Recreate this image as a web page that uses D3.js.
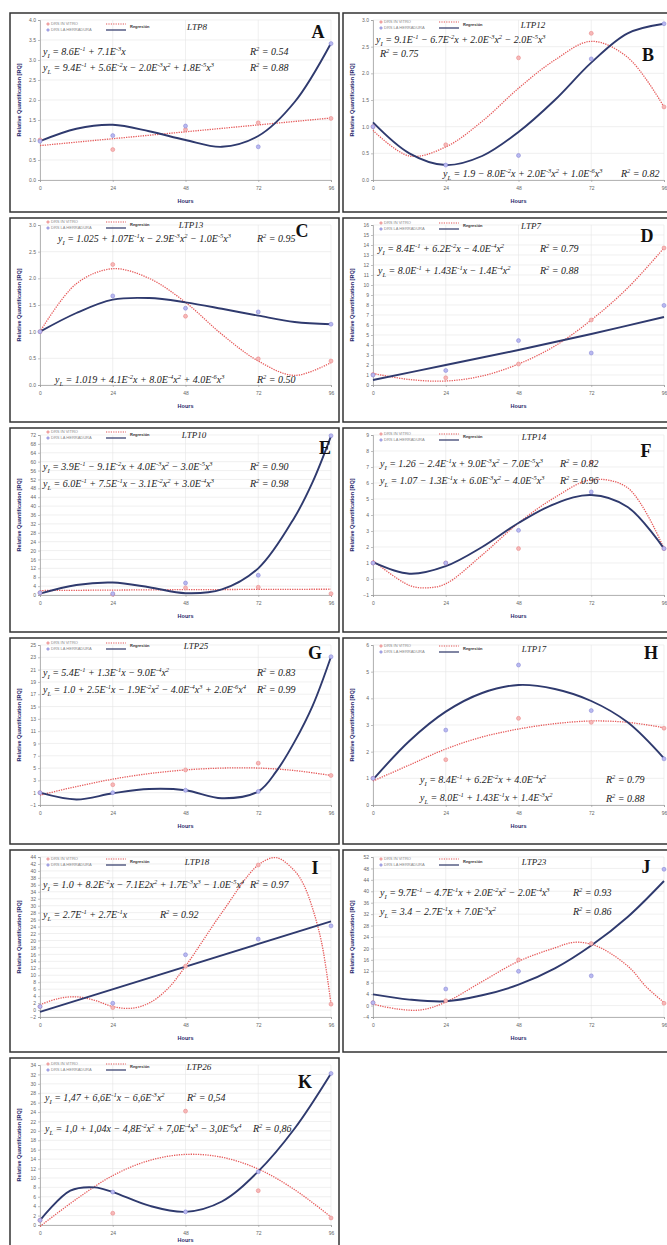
<!DOCTYPE html>
<html>
<head>
<meta charset="utf-8">
<script src="https://cdn.jsdelivr.net/npm/d3@7"></script>
<style>
  body { margin: 0; background: #fff; }
  svg { display: block; }
  .tick-label { font-family: "Liberation Sans", Arial, sans-serif; font-size: 5px; fill: #666; }
  .eq { font-family: "Liberation Serif", "Times New Roman", serif; font-style: italic; font-size: 10px; fill: #222; }
  .letter { font-family: "Liberation Serif", "Times New Roman", serif; font-weight: bold; font-size: 18px; fill: #111; }
  .gene { font-family: "Liberation Serif", "Times New Roman", serif; font-style: italic; font-size: 9px; fill: #222; }
  .legend { font-family: "Liberation Sans", Arial, sans-serif; font-size: 4px; fill: #888; }
  .axis-title { font-family: "Liberation Sans", Arial, sans-serif; font-weight: bold; font-size: 5.5px; fill: #1f1f6b; }
</style>
</head>
<body>
<svg id="fig" width="667" height="1245"></svg>
<script>
// ---- data ----
const hours = [0, 24, 48, 72, 96];
const panelLetters = ["A", "B", "C", "D", "E", "F", "G", "H", "I", "J", "K"];
const genes = ["LTP8", "LTP12", "LTP13", "LTP7", "LTP10", "LTP14", "LTP25", "LTP17", "LTP18", "LTP23", "LTP26"];
const legendNames = ["DRS IN VITRO", "DRS LA HERRADURA"];
const fitName = "Regresión";

const yDomains = [[0, 4], [0, 3], [0, 3], [0, 16], [0, 72], [-1, 9], [-1, 25], [0, 6], [-2, 44], [-4, 52], [0, 34]];
const yTickSteps = [0.5, 0.5, 0.5, 1, 4, 1, 2, 1, 2, 4, 2];

// measured points at 0/24/48/72/96 h
const redPoints = [
  [1.0, 0.76, 1.26, 1.43, 1.54],
  [1.0, 0.66, 2.29, 2.75, 1.37],
  [1.0, 2.26, 1.29, 0.49, 0.45],
  [1.05, 0.72, 2.1, 6.5, 13.7],
  [1.0, 0.3, 3.2, 3.5, 0.6],
  [1.0, 1.0, 1.9, 7.3, 1.9],
  [1.0, 2.3, 4.7, 5.8, 3.8],
  [1.0, 1.7, 3.25, 3.1, 2.88],
  [1.0, 0.7, 12.6, 41.7, 1.7],
  [1.0, 1.7, 16.0, 21.7, 0.8],
  [1.0, 2.5, 24.2, 7.3, 1.5]
];
const bluePoints = [
  [0.97, 1.11, 1.35, 0.83, 3.41],
  [1.0, 0.28, 0.46, 2.27, 2.93],
  [1.0, 1.67, 1.44, 1.37, 1.14],
  [1.0, 1.45, 4.44, 3.2, 7.96],
  [1.0, 0.6, 5.4, 8.9, 71.7],
  [1.0, 1.0, 3.04, 5.44, 1.9],
  [1.0, 1.0, 1.4, 1.2, 23.1],
  [1.0, 2.81, 5.25, 3.54, 1.73],
  [1.0, 1.95, 15.9, 20.4, 24.2],
  [1.0, 5.8, 12.0, 10.4, 47.7],
  [1.0, 7.0, 2.8, 11.3, 32.2]
];

// regression curves, [hour, value]
const redFits = [
  [[0, 0.86], [96, 1.55]],
  [[0, 0.93], [12, 0.45], [24, 0.62], [36, 1.1], [48, 1.72], [60, 2.25], [72, 2.6], [84, 2.3], [96, 1.37]],
  [[0, 1.0], [12, 1.9], [24, 2.18], [36, 2.0], [48, 1.55], [60, 0.95], [72, 0.45], [84, 0.18], [96, 0.42]],
  [[0, 1.15], [12, 0.55], [24, 0.4], [36, 0.9], [48, 2.1], [60, 3.9], [72, 6.5], [84, 9.7], [96, 13.7]],
  [[0, 2.0], [48, 2.4], [96, 2.6]],
  [[0, 1.15], [12, -0.4], [18, -0.55], [24, -0.3], [36, 1.5], [48, 3.5], [60, 5.1], [72, 6.2], [84, 5.7], [96, 1.9]],
  [[0, 0.6], [12, 2.0], [24, 3.2], [36, 4.1], [48, 4.7], [60, 5.0], [72, 5.0], [84, 4.6], [96, 3.8]],
  [[0, 0.9], [12, 1.5], [24, 2.1], [36, 2.55], [48, 2.85], [60, 3.05], [72, 3.15], [84, 3.1], [96, 2.9]],
  [[0, 1.5], [6, 3.3], [12, 3.8], [18, 2.8], [24, 1.0], [30, 0.5], [36, 2.0], [42, 6], [48, 12.6], [60, 28], [72, 41.7], [78, 43.8], [84, 40], [87, 36], [90, 29], [93, 19], [96, 1.7]],
  [[0, 0.5], [8, -1.2], [16, -1.5], [24, 1.2], [36, 8.4], [48, 15.5], [60, 20.2], [66, 22.1], [72, 21.5], [78, 18.5], [85, 12.9], [90, 6.7], [96, 1.1]],
  [[0, -0.3], [12, 5.5], [24, 10.5], [36, 13.7], [48, 15.0], [60, 14.4], [72, 11.9], [84, 7.5], [96, 1.7]]
];
const blueFits = [
  [[0, 0.97], [12, 1.28], [24, 1.38], [36, 1.22], [48, 1.0], [60, 0.83], [72, 1.1], [84, 1.95], [96, 3.42]],
  [[0, 1.08], [12, 0.5], [24, 0.28], [36, 0.45], [48, 0.9], [60, 1.5], [72, 2.2], [84, 2.75], [96, 2.93]],
  [[0, 1.0], [12, 1.35], [24, 1.6], [36, 1.63], [48, 1.55], [60, 1.43], [72, 1.3], [84, 1.18], [96, 1.14]],
  [[0, 0.5], [24, 2.0], [48, 3.5], [72, 5.1], [96, 6.8]],
  [[0, 0.6], [12, 4.5], [24, 5.6], [36, 3.5], [48, 0.8], [60, 2.5], [72, 12], [84, 35], [90, 51], [96, 71.5]],
  [[0, 1.05], [12, 0.33], [24, 0.8], [36, 2.0], [48, 3.5], [60, 4.7], [72, 5.25], [84, 4.5], [96, 1.9]],
  [[0, 1.0], [12, -0.1], [24, 0.9], [36, 1.6], [48, 1.4], [60, 0.1], [72, 1.2], [78, 4.5], [84, 9.3], [90, 15.2], [96, 23.1]],
  [[0, 0.95], [12, 2.4], [24, 3.5], [36, 4.2], [48, 4.5], [60, 4.35], [72, 3.9], [84, 3.1], [96, 1.75]],
  [[0, -0.5], [96, 25.5]],
  [[0, 3.9], [12, 2.1], [24, 1.5], [36, 3.6], [48, 7.3], [60, 13], [72, 21], [84, 31], [96, 43.6]],
  [[0, 1.0], [10, 7.3], [18, 8.0], [24, 7.0], [36, 4.1], [48, 2.8], [60, 5.0], [72, 11.4], [84, 20.5], [96, 32.2]]
];

const eqRed = [
  "y_{I} = 8.6E^{-1} + 7.1E^{-3}x",
  "y_{I} = 9.1E^{-1} − 6.7E^{-2}x + 2.0E^{-3}x^{2} − 2.0E^{-5}x^{3}",
  "y_{I} = 1.025 + 1.07E^{-1}x − 2.9E^{-3}x^{2} − 1.0E^{-5}x^{3}",
  "y_{I} = 8.4E^{-1} + 6.2E^{-2}x − 4.0E^{-4}x^{2}",
  "y_{I} = 3.9E^{-1} − 9.1E^{-2}x + 4.0E^{-3}x^{2} − 3.0E^{-5}x^{3}",
  "y_{I} = 1.26 − 2.4E^{-1}x + 9.0E^{-3}x^{2} − 7.0E^{-5}x^{3}",
  "y_{I} = 5.4E^{-1} + 1.3E^{-1}x − 9.0E^{-4}x^{2}",
  "y_{I} = 8.4E^{-1} + 6.2E^{-2}x + 4.0E^{-4}x^{2}",
  "y_{I} = 1.0 + 8.2E^{-2}x − 7.1E2x^{2} + 1.7E^{-3}x^{3} − 1.0E^{-5}x^{4}",
  "y_{I} = 9.7E^{-1} − 4.7E^{-1}x + 2.0E^{-2}x^{2} − 2.0E^{-4}x^{3}",
  "y_{I} = 1,47 + 6,6E^{-1}x − 6,6E^{-3}x^{2}"
];
const eqBlue = [
  "y_{L} = 9.4E^{-1} + 5.6E^{-2}x − 2.0E^{-3}x^{2} + 1.8E^{-5}x^{3}",
  "y_{L} = 1.9 − 8.0E^{-2}x + 2.0E^{-3}x^{2} + 1.0E^{-6}x^{3}",
  "y_{L} = 1.019 + 4.1E^{-2}x + 8.0E^{-4}x^{2} + 4.0E^{-6}x^{3}",
  "y_{L} = 8.0E^{-1} + 1.43E^{-1}x − 1.4E^{-4}x^{2}",
  "y_{L} = 6.0E^{-1} + 7.5E^{-1}x − 3.1E^{-2}x^{2} + 3.0E^{-4}x^{3}",
  "y_{L} = 1.07 − 1.3E^{-1}x + 6.0E^{-3}x^{2} − 4.0E^{-5}x^{3}",
  "y_{L} = 1.0 + 2.5E^{-1}x − 1.9E^{-2}x^{2} − 4.0E^{-4}x^{3} + 2.0E^{-6}x^{4}",
  "y_{L} = 8.0E^{-1} + 1.43E^{-1}x + 1.4E^{-3}x^{2}",
  "y_{L} = 2.7E^{-1} + 2.7E^{-1}x",
  "y_{L} = 3.4 − 2.7E^{-1}x + 7.0E^{-3}x^{2}",
  "y_{L} = 1,0 + 1,04x − 4,8E^{-2}x^{2} + 7,0E^{-4}x^{3} − 3,0E^{-6}x^{4}"
];
const r2Red = ["0.54", "0.75", "0.95", "0.79", "0.90", "0.82", "0.83", "0.79", "0.97", "0.93", "0,54"];
const r2Blue = ["0.88", "0.82", "0.50", "0.88", "0.98", "0.96", "0.99", "0.88", "0.92", "0.86", "0,86"];

// ---- layout (panel-relative) ----
const colX = [10, 343];
const rowY = [13, 218, 428, 638, 850, 1058];
const boxW = 329;
const plotL = 30, plotW = 291, plotT = 7, plotB = 167;
// [eqRx, eqRy, r2Rx, r2Ry, eqBx, eqBy, r2Bx, r2By]
const eqPos = [
  [33, 39, 240, 39, 33, 55, 240, 55],
  [33, 27, 37, 41, 100, 161, 278, 161],
  [48, 21, 247, 21, 45, 162, 247, 162],
  [35, 31, 197, 31, 35, 53, 197, 53],
  [33, 39, 240, 39, 33, 56, 240, 56],
  [37, 36, 217, 36, 37, 53, 217, 53],
  [33, 35, 247, 35, 33, 52, 247, 52],
  [77, 142, 263, 142, 77, 160, 263, 161],
  [33, 35, 240, 35, 33, 65, 150, 65],
  [37, 43, 230, 43, 37, 62, 230, 62],
  [35, 40, 177, 40, 35, 71, 243, 71]
];
const titlePos = [[187, 14], [190, 12], [181, 7], [188, 8], [184, 7], [191, 9], [186, 8], [191, 11], [187, 12], [191, 12], [189, 9]];
const letterPos = [[308, 19], [305, 42], [292, 13], [304, 18], [315, 20], [303, 23], [305, 15], [308, 15], [305, 18], [303, 17], [295, 24]];

const svg = d3.select("#fig");
const pageH = +svg.attr("height");

function drawEquation(g, x, y, str) {
    const t = g.append("text").attr("class", "eq").attr("x", x).attr("y", y);
    const parts = str.split(/(\^\{[^}]*\}|_\{[^}]*\})/);
    let shift = 0;
    parts.forEach(p => {
        if (!p) return;
        if (p[0] === "^" || p[0] === "_") {
            const d = p[0] === "^" ? -4 : 2.5;
            t.append("tspan").attr("dy", d - shift).attr("font-size", 6.5).text(p.slice(2, -1));
            shift = d;
        } else {
            t.append("tspan").attr("dy", -shift).text(p);
            shift = 0;
        }
    });
}

function drawPanel(i) {
    const col = i % 2, row = Math.floor(i / 2);
    const ox = colX[col], oy = rowY[row];
    const boxH = row < rowY.length - 1 ? rowY[row + 1] - oy - 6 : 200;
    const g = svg.append("g").attr("transform", `translate(${ox},${oy})`);

    g.append("rect")
        .attr("x", 0).attr("y", 0)
        .attr("width", boxW).attr("height", boxH)
        .attr("fill", "#fff").attr("stroke", "#333").attr("stroke-width", 1.5);

    const x = d3.scaleLinear().domain([0, 96]).range([plotL, plotL + plotW]);
    const y = d3.scaleLinear().domain(yDomains[i]).range([plotB, plotT]);
    const step = yTickSteps[i];
    const yTicks = d3.range(yDomains[i][0], yDomains[i][1] + step / 2, step);
    const fmt = step < 1 ? d3.format(".1f") : d3.format("d");

    // grid
    g.append("g").selectAll("line").data(yTicks).enter().append("line")
        .attr("x1", plotL).attr("x2", plotL + plotW)
        .attr("y1", d => y(d)).attr("y2", d => y(d))
        .attr("stroke", "#e6e6e6").attr("stroke-width", 0.6);
    g.append("g").selectAll("line").data(hours).enter().append("line")
        .attr("x1", d => x(d)).attr("x2", d => x(d))
        .attr("y1", plotT).attr("y2", plotB)
        .attr("stroke", "#e6e6e6").attr("stroke-width", 0.6);

    // axes
    const yAxis = g.append("g").attr("transform", `translate(${plotL},0)`)
        .call(d3.axisLeft(y).tickValues(yTicks).tickFormat(fmt).tickSize(2).tickPadding(2));
    const xAxis = g.append("g").attr("transform", `translate(0,${plotB})`)
        .call(d3.axisBottom(x).tickValues(hours).tickSize(2).tickPadding(4));
    [yAxis, xAxis].forEach(a => {
        a.select(".domain").attr("stroke", "#999").attr("stroke-width", 0.7);
        a.selectAll(".tick line").attr("stroke", "#999").attr("stroke-width", 0.6);
        a.selectAll(".tick text").attr("class", "tick-label").attr("font-size", null).attr("font-family", null).attr("fill", null);
    });

    g.append("text").attr("class", "axis-title")
        .attr("transform", `translate(9,${(plotT + plotB) / 2}) rotate(-90)`)
        .attr("text-anchor", "middle").attr("dy", "0.35em")
        .text("Relative Quantification  [RQ]");
    // keep the last row's "Hours" inside the page
    g.append("text").attr("class", "axis-title")
        .attr("x", plotL + plotW / 2).attr("y", Math.min(plotB + 23, pageH - oy - 3))
        .attr("text-anchor", "middle")
        .text("Hours");

    // legend
    const [tx, ty] = titlePos[i];
    const lg = g.append("g").attr("transform", `translate(${plotL + 8},${ty - 3})`);
    lg.append("circle").attr("cx", 0).attr("cy", 0).attr("r", 1.3).attr("fill", "#f6b3b3").attr("stroke", "#e07070").attr("stroke-width", 0.4);
    lg.append("circle").attr("cx", 0).attr("cy", 6).attr("r", 1.3).attr("fill", "#b3b3ee").attr("stroke", "#7070c8").attr("stroke-width", 0.4);
    lg.append("text").attr("class", "legend").attr("x", 3).attr("y", 1.4).text(legendNames[0]);
    lg.append("text").attr("class", "legend").attr("x", 3).attr("y", 7.4).text(legendNames[1]);
    lg.append("line").attr("x1", 58).attr("x2", 78).attr("y1", 0).attr("y2", 0)
        .attr("stroke", "#e05555").attr("stroke-width", 1.2).attr("stroke-dasharray", "1.2,1.2");
    lg.append("line").attr("x1", 58).attr("x2", 78).attr("y1", 6).attr("y2", 6)
        .attr("stroke", "#2c3566").attr("stroke-width", 1.2);
    lg.append("text").attr("class", "legend").attr("x", 82).attr("y", 4.4)
        .attr("font-weight", "bold").style("fill", "#333").text(fitName);

    // fitted curves
    const line = d3.line()
        .x(d => x(d[0]))
        .y(d => y(d[1]))
        .curve(d3.curveCatmullRom.alpha(0.5));
    g.append("path").attr("d", line(redFits[i]))
        .attr("fill", "none").attr("stroke", "#e65a5a").attr("stroke-width", 1.3)
        .attr("stroke-dasharray", "1.3,1.1");
    g.append("path").attr("d", line(blueFits[i]))
        .attr("fill", "none").attr("stroke", "#2f3a6e").attr("stroke-width", 1.9);

    // points
    g.append("g").selectAll("circle").data(redPoints[i]).enter().append("circle")
        .attr("cx", (d, k) => x(hours[k])).attr("cy", d => y(d)).attr("r", 2)
        .attr("fill", "#f6b8b8").attr("stroke", "#e68080").attr("stroke-width", 0.5);
    g.append("g").selectAll("circle").data(bluePoints[i]).enter().append("circle")
        .attr("cx", (d, k) => x(hours[k])).attr("cy", d => y(d)).attr("r", 2)
        .attr("fill", "#b8b8f0").attr("stroke", "#8080d0").attr("stroke-width", 0.5);

    // labels
    g.append("text").attr("class", "gene").attr("x", tx).attr("y", ty + 3)
        .attr("text-anchor", "middle").text(genes[i]);
    g.append("text").attr("class", "letter").attr("x", letterPos[i][0]).attr("y", letterPos[i][1] + 6)
        .attr("text-anchor", "middle").text(panelLetters[i]);

    const p = eqPos[i];
    drawEquation(g, p[0], p[1] + 3, eqRed[i]);
    drawEquation(g, p[2], p[3] + 3, "R^{2} = " + r2Red[i]);
    drawEquation(g, p[4], p[5] + 3, eqBlue[i]);
    drawEquation(g, p[6], p[7] + 3, "R^{2} = " + r2Blue[i]);
}

panelLetters.forEach((d, i) => drawPanel(i));
</script>
</body>
</html>
